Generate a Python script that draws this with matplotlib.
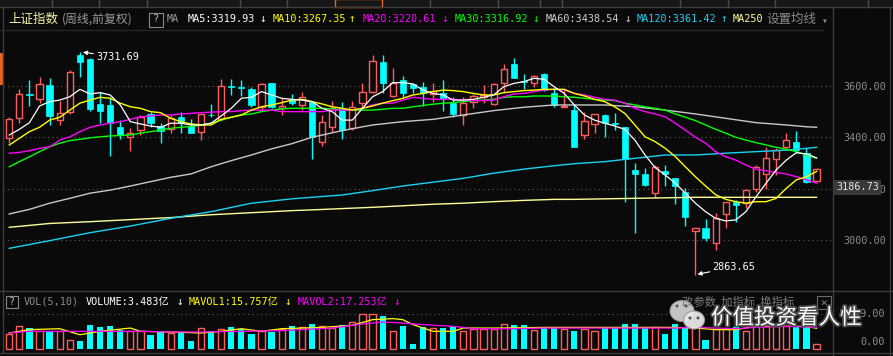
import matplotlib
matplotlib.use("Agg")
import matplotlib.pyplot as plt
from matplotlib.patches import Rectangle, Ellipse
from matplotlib import patheffects
from matplotlib.transforms import blended_transform_factory

plt.rcParams['font.family'] = ['DejaVu Sans', 'Noto Sans CJK SC']

W, H = 893, 356
BG = "#0a0a0a"
UP = "#ff5c5c"
DN = "#00ffff"
MONO = ['DejaVu Sans Mono', 'DejaVu Sans', 'Noto Sans CJK SC']
CJK = ['Noto Sans CJK SC', 'DejaVu Sans']

# weekly candles
opens = [3396, 3474, 3570, 3549, 3604, 3467, 3500, 3721, 3705, 3530,
         3526, 3439, 3402, 3428, 3491, 3444, 3431, 3480, 3444, 3422,
         3488, 3470, 3599, 3596, 3587, 3519, 3610, 3514, 3548, 3526,
         3539, 3383, 3439, 3513, 3435, 3533, 3578, 3695, 3561, 3623,
         3608, 3597, 3568, 3571, 3533, 3488, 3539, 3558, 3529, 3613,
         3686, 3619, 3610, 3647, 3574, 3520, 3506, 3409, 3451, 3487,
         3454, 3439, 3272, 3257, 3184, 3270, 3240, 3186, 3036, 3045,
         2989, 3100, 3149, 3143, 3197, 3256, 3314, 3361, 3383, 3340,
         3231]
highs = [3480, 3587, 3623, 3634, 3632, 3543, 3662, 3731.69, 3708, 3578,
         3558, 3467, 3435, 3487, 3500, 3457, 3487, 3500, 3470, 3491,
         3529, 3626, 3626, 3623, 3597, 3613, 3613, 3552, 3569, 3575,
         3541, 3487, 3543, 3539, 3541, 3610, 3721, 3721, 3669, 3639,
         3613, 3614, 3610, 3623, 3558, 3556, 3569, 3604, 3613, 3686,
         3708, 3646, 3643, 3652, 3591, 3584, 3526, 3500, 3491, 3489,
         3496, 3442, 3299, 3279, 3292, 3292, 3241, 3201, 3047, 3080,
         3104, 3149, 3155, 3197, 3292, 3361, 3357, 3416, 3426, 3358,
         3279]
lows = [3377, 3457, 3522, 3533, 3448, 3448, 3491, 3636, 3502, 3457,
        3327, 3392, 3348, 3409, 3439, 3377, 3416, 3418, 3416, 3389,
        3480, 3464, 3565, 3561, 3519, 3506, 3513, 3487, 3526, 3506,
        3314, 3366, 3422, 3393, 3428, 3519, 3571, 3571, 3558, 3556,
        3574, 3523, 3539, 3504, 3480, 3448, 3513, 3533, 3526, 3578,
        3630, 3587, 3597, 3582, 3519, 3519, 3361, 3392, 3418, 3402,
        3428, 3149, 3026, 3210, 3162, 3210, 3140, 3054, 2863.65, 2997,
        2961, 3045, 3071, 3123, 3188, 3197, 3253, 3350, 3338, 3222,
        3227]
closes = [3471, 3568, 3566, 3608, 3483, 3494, 3653, 3695, 3510, 3502,
          3455, 3409, 3416, 3480, 3455, 3426, 3474, 3455, 3418, 3491,
          3485, 3600, 3596, 3592, 3526, 3608, 3519, 3522, 3533, 3556,
          3400, 3458, 3513, 3428, 3519, 3578, 3699, 3613, 3610, 3571,
          3593, 3571, 3582, 3548, 3491, 3535, 3561, 3565, 3608, 3665,
          3633, 3616, 3639, 3584, 3526, 3523, 3363, 3464, 3491, 3455,
          3451, 3314, 3256, 3214, 3285, 3256, 3211, 3091, 3045, 3006,
          3084, 3146, 3136, 3195, 3285, 3318, 3349, 3389, 3350, 3227,
          3275]
# volume, 亿
volumes = [11.5, 17.3, 16.0, 14.0, 14.0, 13.5, 7.1, 6.4, 18.6, 16.5,
           17.3, 14.8, 14.0, 14.0, 10.9, 13.0, 12.2, 12.2, 6.4, 16.0,
           14.0, 15.5, 16.5, 15.5, 11.7, 14.0, 13.0, 15.5, 17.3, 16.5,
           19.1, 17.3, 16.0, 18.6, 20.6, 26.7, 26.7, 24.9, 14.0, 17.3,
           3.8, 16.5, 16.0, 16.0, 17.3, 14.0, 15.5, 15.5, 15.5, 19.1,
           18.6, 18.6, 14.8, 16.5, 16.5, 15.5, 14.0, 15.5, 14.0, 16.5,
           16.5, 19.1, 19.1, 16.0, 16.5, 11.5, 19.1, 16.5, 16.5, 7.1,
           15.5, 15.5, 16.5, 13.5, 19.1, 17.3, 17.3, 17.3, 16.5, 16.5,
           3.48]

ma5 = [3409, 3431, 3457, 3522, 3539, 3545, 3558, 3587, 3569, 3574,
       3565, 3526, 3461, 3452, 3444, 3439, 3455, 3455, 3448, 3448,
       3455, 3483, 3513, 3552, 3556, 3578, 3565, 3552, 3548, 3545,
       3539, 3513, 3500, 3467, 3467, 3513, 3558, 3578, 3613, 3613,
       3608, 3584, 3571, 3565, 3545, 3545, 3548, 3556, 3565, 3597,
       3610, 3617, 3630, 3626, 3597, 3571, 3526, 3487, 3467, 3455,
       3444, 3431, 3389, 3331, 3282, 3253, 3221, 3182, 3143, 3110,
       3084, 3074, 3078, 3110, 3168, 3221, 3273, 3311, 3340, 3335,
       3320]
ma10 = [3370, 3396, 3422, 3439, 3467, 3478, 3506, 3533, 3545, 3556,
        3552, 3533, 3519, 3513, 3500, 3496, 3474, 3461, 3452, 3448,
        3448, 3470, 3478, 3487, 3506, 3519, 3526, 3535, 3545, 3548,
        3539, 3530, 3519, 3513, 3506, 3513, 3522, 3533, 3543, 3552,
        3565, 3571, 3578, 3584, 3582, 3578, 3571, 3565, 3565, 3574,
        3578, 3582, 3584, 3587, 3587, 3587, 3571, 3561, 3548, 3539,
        3519, 3493, 3448, 3402, 3383, 3357, 3325, 3285, 3246, 3210,
        3176, 3158, 3149, 3143, 3149, 3149, 3162, 3201, 3234, 3246,
        3267]
ma20 = [3338, 3341, 3348, 3357, 3363, 3389, 3402, 3422, 3439, 3448,
        3455, 3461, 3470, 3480, 3483, 3487, 3487, 3491, 3493, 3496,
        3498, 3500, 3500, 3504, 3506, 3506, 3506, 3500, 3500, 3500,
        3500, 3500, 3506, 3506, 3506, 3513, 3526, 3533, 3533, 3545,
        3556, 3552, 3548, 3548, 3548, 3545, 3543, 3543, 3545, 3558,
        3569, 3571, 3578, 3584, 3587, 3584, 3571, 3565, 3556, 3548,
        3545, 3533, 3513, 3500, 3491, 3480, 3455, 3428, 3400, 3377,
        3344, 3324, 3311, 3292, 3275, 3270, 3262, 3257, 3246, 3234,
        3221]
ma30 = [3285, 3305, 3324, 3344, 3363, 3377, 3387, 3392, 3398, 3402,
        3405, 3407, 3409, 3416, 3422, 3428, 3435, 3439, 3442, 3448,
        3455, 3467, 3478, 3487, 3491, 3500, 3506, 3511, 3513, 3513,
        3513, 3513, 3511, 3506, 3506, 3506, 3506, 3509, 3513, 3513,
        3519, 3524, 3529, 3533, 3535, 3539, 3543, 3545, 3548, 3556,
        3558, 3558, 3561, 3561, 3561, 3558, 3556, 3552, 3548, 3545,
        3543, 3533, 3526, 3519, 3513, 3506, 3491, 3478, 3465, 3448,
        3431, 3416, 3400, 3389, 3379, 3370, 3361, 3353, 3344, 3331,
        3318]
ma60_idx = [0, 2, 4, 6, 8, 10, 12, 14, 16, 18, 20, 22, 24, 26, 28, 30, 33, 36,
            39, 42, 45, 48, 51, 54, 56, 59, 62, 65, 68, 71, 74, 77, 79, 80]
ma60 = [3101, 3119, 3143, 3162, 3182, 3194, 3210, 3227, 3244, 3257, 3285,
        3309, 3331, 3355, 3375, 3400, 3426, 3448, 3461, 3470, 3487, 3504,
        3517, 3526, 3526, 3526, 3519, 3506, 3491, 3474, 3457, 3448, 3441, 3439]
ma120_idx = [0, 4, 8, 12, 16, 20, 24, 28, 30, 33, 36, 39, 42, 45, 48, 51, 54,
             56, 59, 62, 65, 68, 71, 74, 77, 79, 80]
ma120 = [2967, 2997, 3028, 3054, 3084, 3110, 3143, 3160, 3166, 3175, 3192,
         3210, 3225, 3240, 3260, 3276, 3289, 3297, 3305, 3318, 3331, 3331,
         3338, 3344, 3350, 3357, 3361]
ma250_idx = [0, 4, 8, 12, 16, 20, 24, 28, 30, 33, 36, 39, 42, 45, 48, 51, 54,
             56, 62, 68, 80]
ma250 = [3049, 3064, 3071, 3079, 3087, 3098, 3106, 3114, 3117, 3122, 3127,
         3133, 3139, 3143, 3149, 3154, 3158, 3158, 3162, 3166, 3166]

mavol1_idx = [0, 2, 5, 7, 9, 12, 13, 16, 19, 21, 23, 25, 27, 31, 34, 36, 38,
              39, 40, 42, 44, 45, 49, 53, 66, 68, 70, 72, 74, 79, 80]
mavol1 = [12.2, 14.8, 15.5, 10.9, 13.5, 16.0, 13.5, 13.0, 12.2, 13.5, 15.5,
          13.5, 15.5, 16.5, 18.1, 22.4, 23.2, 22.4, 18.6, 13.5, 13.5, 16.0,
          16.0, 16.5, 16.5, 16.0, 14.8, 14.8, 17.3, 17.3, 15.8]
mavol2_idx = [0, 2, 13, 16, 19, 23, 27, 32, 35, 37, 39, 41, 44, 46, 50, 53,
              66, 68, 72, 74, 77, 80]
mavol2 = [12.2, 13.5, 13.5, 13.0, 13.0, 13.5, 14.0, 16.0, 19.1, 20.6, 19.8,
          18.6, 17.3, 15.5, 15.5, 16.0, 16.0, 16.5, 15.5, 16.5, 17.3, 16.5]

price_ticks = [3000, 3200, 3400, 3600]

fig = plt.figure(figsize=(W / 100, H / 100), dpi=100, facecolor=BG)

# ---- price panel ----
ax = fig.add_axes([3 / W, (H - 290) / H, 830 / W, 260 / H], facecolor=BG)
ax.set_xlim(-0.62, 81.63)
ax.set_ylim(2804.6, 3818.3)
for s in ax.spines.values():
    s.set_visible(False)
ax.set_xticks([])
ax.yaxis.tick_right()
ax.set_yticks(price_ticks)
ax.set_yticklabels(["%.2f" % t for t in price_ticks], family=MONO, fontsize=7.3, color="#8c8c8c")
ax.tick_params(axis='y', length=0, pad=7.5)
ax.grid(axis='y', color="#5a5a5a", linestyle=(0, (1, 3)), linewidth=0.8)

bw = 0.62
for i in range(len(opens)):
    o, h, l, c = opens[i], highs[i], lows[i], closes[i]
    lo_b, hi_b = min(o, c), max(o, c)
    if hi_b - lo_b < 3:
        hi_b = lo_b + 3
    if c > o:
        ax.vlines(i, hi_b, h, color=UP, lw=1, zorder=3)
        ax.vlines(i, l, lo_b, color=UP, lw=1, zorder=3)
        ax.add_patch(Rectangle((i - bw / 2, lo_b), bw, hi_b - lo_b, facecolor=BG,
                               edgecolor=UP, lw=1, zorder=3))
    else:
        ax.vlines(i, l, h, color=DN, lw=1, zorder=3)
        ax.add_patch(Rectangle((i - bw / 2, lo_b), bw, hi_b - lo_b, facecolor=DN,
                               edgecolor=DN, lw=0.5, zorder=3))

xs = list(range(len(closes)))
ax.plot(ma250_idx, ma250, color="#ffff99", lw=1, zorder=4)
ax.plot(ma120_idx, ma120, color="#1ad2f5", lw=1, zorder=4)
ax.plot(ma60_idx, ma60, color="#c8c8c8", lw=1, zorder=4)
ax.plot(xs, ma30, color="#00ff00", lw=1, zorder=4)
ax.plot(xs, ma20, color="#ff00ff", lw=1, zorder=4)
ax.plot(xs, ma10, color="#ffff00", lw=1, zorder=4)
ax.plot(xs, ma5, color="#ffffff", lw=0.9, zorder=4)

ax.annotate("3731.69", xy=(7.3, 3731.69), xytext=(8.6, 3713), color="white",
            family=MONO, fontsize=7.3, va='center',
            arrowprops=dict(arrowstyle='-|>', color='white', lw=0.8,
                            mutation_scale=6, shrinkA=0, shrinkB=0), zorder=6)
ax.annotate("2863.65", xy=(68.2, 2866), xytext=(69.7, 2894), color="white",
            family=MONO, fontsize=7.3, va='center',
            arrowprops=dict(arrowstyle='-|>', color='white', lw=0.8,
                            mutation_scale=6, shrinkA=0, shrinkB=0), zorder=6)

tr = blended_transform_factory(ax.transAxes, ax.transData)
ax.text(1.0035, 3205, "3186.73", transform=tr, family=MONO, fontsize=7.3,
        color="#e6e6e6", va='center', ha='left', clip_on=False, zorder=7,
        bbox=dict(boxstyle='square,pad=0.25', facecolor="#383838", edgecolor="none"))

# ---- volume panel ----
vx = fig.add_axes([3 / W, (H - 352) / H, 830 / W, 61 / H], facecolor=BG)
vx.set_xlim(-0.62, 81.63)
vx.set_ylim(-2.29, 44.27)
vx.axis('off')
vx.axhline(26.7, color="#5a5a5a", linestyle=(0, (1, 3)), lw=0.8)
for i, v in enumerate(volumes):
    if closes[i] > opens[i]:
        vx.bar(i, v, width=bw, facecolor=BG, edgecolor=UP, lw=1, zorder=3)
    else:
        vx.bar(i, v, width=bw, color=DN, lw=0, zorder=3)
vx.plot(mavol1_idx, mavol1, color="#ffff00", lw=0.9, zorder=4)
vx.plot(mavol2_idx, mavol2, color="#ff00ff", lw=0.9, zorder=4)

# ---- frame, headers, watermark (pixel overlay) ----
ov = fig.add_axes([0, 0, 1, 1], zorder=10)
ov.set_xlim(0, W)
ov.set_ylim(H, 0)
ov.axis('off')
ov.patch.set_alpha(0)

line_c = "#3c3c3c"
ov.add_patch(Rectangle((0, 0), W, 7, facecolor="#161616", edgecolor="none"))
ov.plot([0, W], [7, 7], color=line_c, lw=1)
for xd in [52, 99, 147, 240, 287, 430, 498, 540, 562, 680, 728, 775, 868]:
    ov.plot([xd, xd], [0, 7], color="#4a4a4a", lw=1)
ov.add_patch(Rectangle((335, -1), 47, 7.5, facecolor="none", edgecolor="#e8641e", lw=1))
ov.plot([0, 823], [29.5, 29.5], color="#262626", lw=1)
ov.plot([833, 833], [7, H], color=line_c, lw=1)
ov.plot([890, 890], [7, H], color=line_c, lw=1)
ov.plot([3, 3], [7, 352], color=line_c, lw=1)
ov.plot([0, W], [290.5, 290.5], color=line_c, lw=1)
ov.plot([0, W], [352.5, 352.5], color=line_c, lw=1)
ov.add_patch(Rectangle((0, 53), 2.5, 32, facecolor="#e8641e", edgecolor="none"))

hy = 19.3
ov.text(8, hy, "上证指数", family=CJK, fontsize=9, color="#f5f5a8", va='center')
ov.text(62, hy, "(周线,前复权)", family=CJK, fontsize=8.6, color="#9a9a9a", va='center')
ov.add_patch(Rectangle((149, 12.5), 14, 14, facecolor="none", edgecolor="#8a8a8a", lw=0.8))
ov.text(156, hy, "?", family=MONO, fontsize=7.5, color="#bbbbbb", va='center', ha='center')
ov.text(167, hy, "MA", family=MONO, fontsize=7.3, color="#9a9a9a", va='center')
header = [(188, "MA5:3319.93", "#ffffff", 263, "↓"),
          (273, "MA10:3267.35", "#ffff00", 352, "↑"),
          (363, "MA20:3220.61", "#ff00ff", 445, "↓"),
          (455, "MA30:3316.92", "#00ff00", 536, "↓"),
          (546, "MA60:3438.54", "#d0d0d0", 628, "↓"),
          (637, "MA120:3361.42", "#1ad2f5", 724, "↑")]
for x0, label, col, xa, arr in header:
    ov.text(x0, hy, label, family=MONO, fontsize=7.3, color=col, va='center')
    ov.text(xa, hy, arr, family=MONO, fontsize=8, color=col, va='center', ha='center')
ov.text(733, hy, "MA250", family=MONO, fontsize=7.3, color="#ffff99", va='center')
ov.text(766, hy, "设置均线", family=CJK, fontsize=9, color="#8c8c8c", va='center')
ov.text(825, hy + 1, "▾", family=MONO, fontsize=7, color="#8c8c8c", va='center', ha='center')

vy = 302
ov.add_patch(Rectangle((6, 296), 12, 12, facecolor="none", edgecolor="#8a8a8a", lw=0.8))
ov.text(12, vy, "?", family=MONO, fontsize=7, color="#bbbbbb", va='center', ha='center')
ov.text(24, vy, "VOL(5,10)", family=MONO, fontsize=7.3, color="#8c8c8c", va='center')
vol_head = [(86, "VOLUME:3.483亿", "#ffffff", 180),
            (189, "MAVOL1:15.757亿", "#ffff00", 288),
            (298, "MAVOL2:17.253亿", "#ff00ff", 397)]
for x0, label, col, xa in vol_head:
    ov.text(x0, vy, label, family=MONO, fontsize=7.3, color=col, va='center')
    ov.text(xa, vy, "↓", family=MONO, fontsize=8, color=col, va='center', ha='center')

ov.text(885, 314, "29.00", family=MONO, fontsize=7.3, color="#8c8c8c", va='center', ha='right')
ov.text(885, 342, "0.00", family=MONO, fontsize=7.3, color="#8c8c8c", va='center', ha='right')

ov.text(682, vy, "改参数  加指标  换指标", family=CJK, fontsize=8.2, color="#7a7a7a", va='center')
ov.add_patch(Rectangle((817, 296), 14, 13, facecolor="none", edgecolor="#6a6a6a", lw=0.8))
ov.text(824, 302.5, "×", family=MONO, fontsize=8, color="#8a8a8a", va='center', ha='center')

# wechat style watermark
ov.add_patch(Ellipse((682, 311), 24, 21, facecolor="#d8d8d8", edgecolor="#9a9a9a", lw=0.8, alpha=0.9))
ov.add_patch(Ellipse((694, 320), 21, 18, facecolor="#e8e8e8", edgecolor="#9a9a9a", lw=0.8, alpha=0.95))
for ex, ey in [(677, 306), (686, 306), (690, 318), (698, 318)]:
    ov.add_patch(Ellipse((ex, ey), 3, 3, facecolor="#555555", edgecolor="none"))
wm = ov.text(711, 318, "价值投资看人性", family=CJK, fontsize=15.5, color="#ffffff",
             va='center', weight='medium')
wm.set_path_effects([patheffects.withStroke(linewidth=2.5, foreground="#4a4a4a")])

fig.savefig("out.png", dpi=100, facecolor=BG)
